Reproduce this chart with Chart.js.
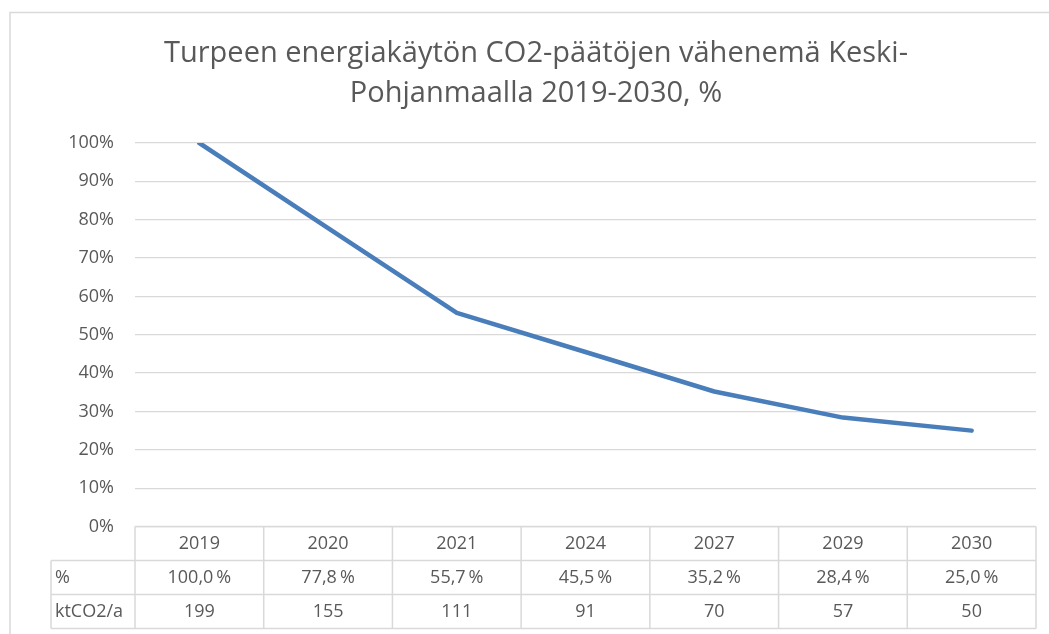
<!DOCTYPE html>
<html>
<head>
<meta charset="utf-8">
<script src="https://cdn.jsdelivr.net/npm/chart.js@4"></script>
<style>
  html, body { margin: 0; padding: 0; background: #fff; }
  #wrap { width: 1049px; height: 634px; position: relative; }
</style>
</head>
<body>
<div id="wrap"><canvas id="c" width="1049" height="634"></canvas></div>
<script>
// ---- data ----
const years = ['2019', '2020', '2021', '2024', '2027', '2029', '2030'];
const pctValues = [100.0, 77.8, 55.7, 45.5, 35.2, 28.4, 25.0];
const ktValues = [199, 155, 111, 91, 70, 57, 50];
const rowLabels = ['%', 'ktCO2/a'];
const titleLines = ['Turpeen energiakäytön CO2-päätöjen vähenemä Keski-', 'Pohjanmaalla 2019-2030, %'];

const TEXT = '#595959';
const GRID = '#d9d9d9';
const FONT = '"Open Sans", "Liberation Sans", sans-serif';

function fmtPct(v) { return v.toFixed(1).replace('.', ',') + '\u2009%'; }

const framePlugin = {
  id: 'frame',
  beforeDraw(chart) {
    const ctx = chart.ctx;
    ctx.save();
    ctx.fillStyle = '#fff';
    ctx.fillRect(0, 0, chart.width, chart.height);
    ctx.strokeStyle = GRID;
    ctx.lineWidth = 1.5;
    ctx.beginPath();
    ctx.moveTo(10, chart.height);
    ctx.lineTo(10, 12.5);
    ctx.lineTo(chart.width, 12.5);
    ctx.stroke();
    ctx.restore();
  }
};

const tablePlugin = {
  id: 'dataTable',
  afterDraw(chart) {
    const ctx = chart.ctx;
    const xs = chart.scales.x;
    const area = chart.chartArea;
    const left = area.left, right = area.right;
    const colW = (right - left) / years.length;
    const rowH = 34;
    const top = area.bottom;
    const labelLeft = 51;
    ctx.save();
    ctx.strokeStyle = GRID;
    ctx.lineWidth = 1.5;
    ctx.beginPath();
    ctx.moveTo(left, top); ctx.lineTo(right, top);
    for (let r = 1; r <= 3; r++) {
      ctx.moveTo(labelLeft, top + r * rowH); ctx.lineTo(right, top + r * rowH);
    }
    for (let i = 0; i <= years.length; i++) {
      const x = left + i * colW;
      ctx.moveTo(x, top); ctx.lineTo(x, top + 3 * rowH);
    }
    ctx.moveTo(labelLeft, top + rowH); ctx.lineTo(labelLeft, top + 3 * rowH);
    ctx.stroke();

    ctx.fillStyle = TEXT;
    ctx.font = '18px ' + FONT;
    ctx.textBaseline = 'middle';
    ctx.textAlign = 'center';
    years.forEach((y, i) => {
      const cx = xs.getPixelForValue(i);
      ctx.fillText(y, cx, top + rowH * 0.5);
      ctx.fillText(fmtPct(pctValues[i]), cx, top + rowH * 1.5);
      ctx.fillText(String(ktValues[i]), cx, top + rowH * 2.5);
    });
    ctx.textAlign = 'left';
    rowLabels.forEach((lab, r) => {
      ctx.fillText(lab, labelLeft + 4, top + rowH * (r + 1.5));
    });
    ctx.restore();
  }
};

new Chart(document.getElementById('c'), {
  type: 'line',
  data: {
    labels: years,
    datasets: [{
      data: pctValues,
      borderColor: '#4a7ebb',
      borderWidth: 4.5,
      borderCapStyle: 'round',
      borderJoinStyle: 'round',
      pointRadius: 0,
      tension: 0,
      fill: false
    }]
  },
  options: {
    responsive: false,
    animation: false,
    layout: { padding: { left: 36, right: 13, top: 12, bottom: 107.5 } },
    plugins: {
      legend: { display: false },
      tooltip: { enabled: false },
      title: {
        display: true,
        text: titleLines,
        color: TEXT,
        font: { family: FONT, size: 29, weight: 'normal', lineHeight: 40 / 29 },
        padding: { top: 22, bottom: 29 }
      }
    },
    scales: {
      x: {
        type: 'category',
        display: false,
        offset: true
      },
      y: {
        min: 0, max: 100,
        afterFit(scale) { scale.width = 99; },
        border: { display: false },
        grid: { color: GRID, lineWidth: 1.3, drawTicks: false },
        ticks: {
          stepSize: 10,
          padding: 21,
          color: TEXT,
          font: { family: FONT, size: 18 },
          callback: v => v + '%'
        }
      }
    }
  },
  plugins: [framePlugin, tablePlugin]
});
</script>
</body>
</html>
